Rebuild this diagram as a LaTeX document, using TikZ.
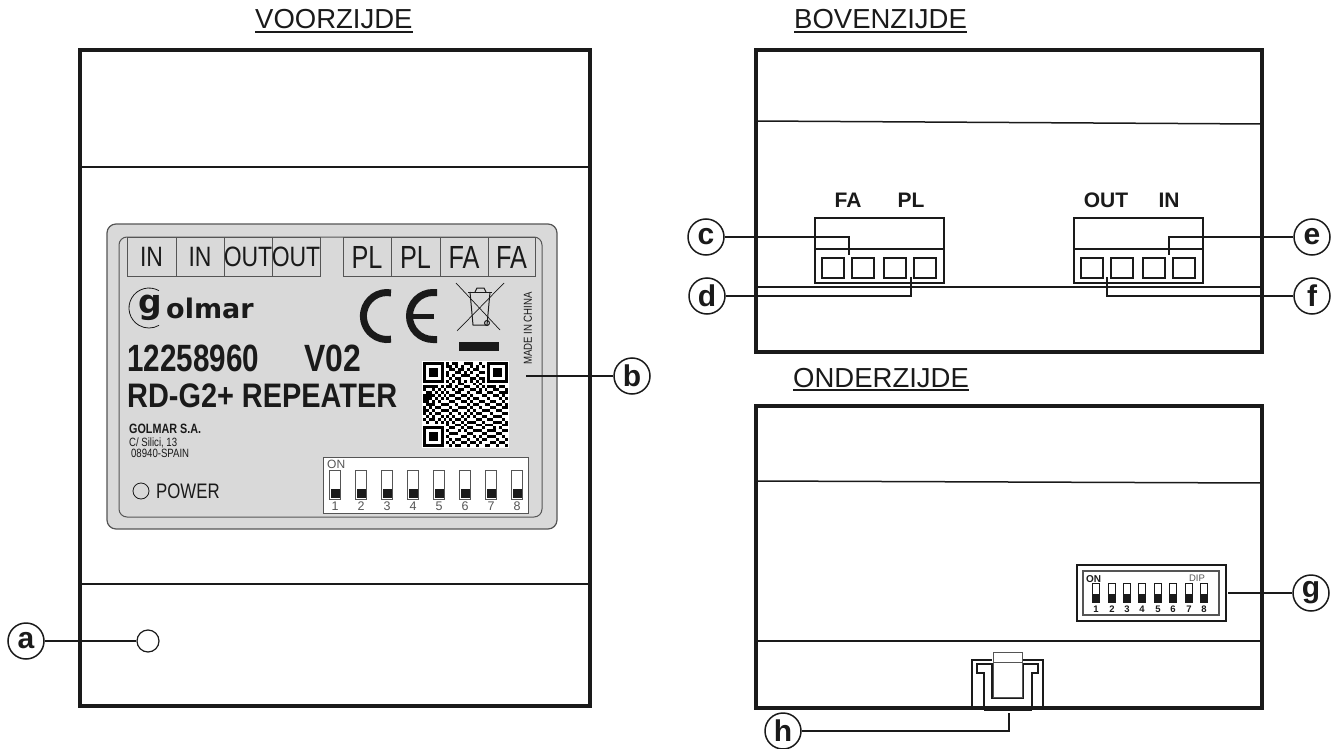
\documentclass[tikz,border=0pt]{standalone}
\usepackage{fontspec}
\setmainfont{Liberation Sans}
\newfontfamily\logofont{DejaVu Sans}
\newcommand{\fsize}[1]{\fontsize{#1}{#1}\selectfont}
\definecolor{inkblack}{HTML}{1A1A1A}
\definecolor{labelgray}{HTML}{D9D9D9}
\definecolor{edgegray}{HTML}{555555}
\tikzset{
    frameline/.style={line width=4pt, color=inkblack},
    thinline/.style={line width=1.5pt, color=inkblack},
    leader/.style={line width=1.5pt, color=inkblack},
    callout/.style={circle, draw=inkblack, line width=1.5pt, fill=white, minimum size=36pt, inner sep=0pt, font=\fsize{30}\bfseries, text=inkblack},
    viewtitle/.style={anchor=base west, inner xsep=0pt, inner ysep=3pt, font=\fsize{27.5}, text=inkblack},
    printed/.style={inner sep=0pt, text=inkblack},
    squeeze/.style={xscale=#1, transform shape},
    cellline/.style={line width=.8pt, color=edgegray},
    portbox/.style={line width=1.5pt, color=inkblack},
}
\begin{document}
\begin{tikzpicture}[x=1pt, y=-1pt]
    \useasboundingbox (0, 0) rectangle (1339, 749);

    % the three views
    \draw[frameline] (80, 50) rectangle (590, 706);
    \draw[thinline] (80, 167) -- (590, 167);
    \draw[thinline] (80, 584) -- (590, 584);
    \draw[frameline] (756, 50) rectangle (1262, 352);
    \draw[thinline] (756, 121) -- (1262, 124);
    \draw[thinline] (756, 287) -- (1262, 287);
    \draw[frameline] (756, 406) rectangle (1262, 708);
    \draw[thinline] (756, 481) -- (1262, 483);
    \draw[thinline] (756, 641) -- (1262, 641);

    \node[viewtitle] (voorzijde) at (255, 29) {VOORZIJDE};
    \draw[line width=2pt, color=inkblack] (voorzijde.south west) -- (voorzijde.south east);
    \node[viewtitle] (bovenzijde) at (794, 29) {BOVENZIJDE};
    \draw[line width=2pt, color=inkblack] (bovenzijde.south west) -- (bovenzijde.south east);
    \node[viewtitle] (onderzijde) at (793, 387) {ONDERZIJDE};
    \draw[line width=2pt, color=inkblack] (onderzijde.south west) -- (onderzijde.south east);

    % label on the front
    \draw[line width=1.2pt, color=edgegray, fill=labelgray, rounded corners=9pt] (107, 224) rectangle (557, 529);
    \draw[line width=1pt, color=edgegray, rounded corners=8pt] (119, 237) rectangle (542, 517);
    \draw[cellline] (127, 237) rectangle (320, 276);
    \draw[cellline] (343, 237) rectangle (535, 276);
    \foreach \x in {176, 224, 272, 391, 440, 488}
        \draw[cellline] (\x, 237) -- (\x, 276);
    \foreach \x/\txt/\id in {151.5/IN/ia, 200/IN/ib, 248/OUT/oa, 296/OUT/ob}
        \node[printed, squeeze=.82, font=\fsize{28}] (term\id) at (\x, 257) {\txt};
    \foreach \x/\txt/\id in {367/PL/pa, 415.5/PL/pb, 464/FA/fa, 511.5/FA/fb}
        \node[printed, squeeze=.79, font=\fsize{32}] (term\id) at (\x, 257) {\txt};

    % logo
    \draw[line width=.8pt, color=inkblack] (159, 290.7) arc[start angle=60, end angle=300, radius=20pt];
    \node[printed, anchor=base west, font=\logofont\fsize{33}\bfseries] (logog) at (138, 313.5) {g};
    \node[printed, anchor=base west, font=\logofont\fsize{27}\bfseries] (logotxt) at (166, 318) {olmar};

    % CE mark and bin
    \draw[line width=7pt, color=inkblack] (391, 292.9) arc[start angle=80, end angle=280, radius=23.5pt];
    \draw[line width=7pt, color=inkblack] (437, 292.5) -- (433, 292.5) arc[start angle=90, end angle=270, radius=23.5pt] -- (437, 339.5);
    \draw[line width=5pt, color=inkblack] (412, 316) -- (434, 316);
    \draw[line width=.7pt, color=inkblack] (456, 283) -- (500, 330);
    \draw[line width=.7pt, color=inkblack] (504, 283) -- (457, 331);
    \draw[line width=1pt, color=inkblack] (468, 292) -- (492, 292);
    \draw[line width=1pt, color=inkblack] (470, 292) -- (473, 325) -- (487, 325) -- (490, 292);
    \draw[line width=1pt, color=inkblack] (475, 292) -- (477, 288) -- (484, 288) -- (486, 292);
    \draw[line width=1pt, color=inkblack] (487, 323) circle (2.5pt);
    \fill[inkblack] (459, 342) rectangle (499, 351);
    \node[printed, rotate=90, squeeze=.83, font=\fsize{11.6}] (madein) at (528, 328.5) {MADE IN CHINA};

    % texts on the label
    \node[printed, anchor=base west, squeeze=.78, font=\fsize{38}\bfseries] (partno) at (127, 371) {12258960};
    \node[printed, anchor=base west, squeeze=.84, font=\fsize{38}\bfseries] (version) at (304, 371) {V02};
    \node[printed, anchor=base west, squeeze=.85, font=\fsize{34}\bfseries] (model) at (127, 407) {RD-G2+ REPEATER};
    \node[printed, anchor=base west, squeeze=.8, font=\fsize{13.5}\bfseries] (maker) at (129, 433) {GOLMAR S.A.};
    \node[printed, anchor=base west, squeeze=.8, font=\fsize{12}] (street) at (129, 446) {C/ Silici, 13};
    \node[printed, anchor=base west, squeeze=.8, font=\fsize{12}] (city) at (131, 457) {08940-SPAIN};
    \node[printed, anchor=base west, squeeze=.8, font=\fsize{21}] (power) at (156, 498) {POWER};
    \draw[line width=.8pt, color=inkblack] (141, 491) circle (8pt);

    % QR code
    \begin{scope}[shift={(423pt, -362pt)}, x=2.93pt, y=-2.93pt]
        \fill[white] (-.3, -.3) rectangle (29.3, 29.3);
        \foreach \fx/\fy in {0/0, 22/0, 0/22} {
            \fill[black] (\fx, \fy) rectangle ++(7, 7);
            \fill[white] (\fx+1, \fy+1) rectangle ++(5, 5);
            \fill[black] (\fx+2, \fy+2) rectangle ++(3, 3);
        }
        \foreach \r/\cols in {0/{8,10,11,14,15,16,19}, 1/{8,9,11,13,16,18,20}, 2/{9,10,12,13,15,17,18},
            3/{8,11,12,14,16,19,20}, 4/{8,10,13,14,15,18}, 5/{9,11,12,16,17,19,20},
            6/{8,10,12,14,16,18,20}, 7/{9,12,13,17,19},
            8/{0,1,2,3,4,6,8,9,11,14,15,18,20,22,23,24,26,27}, 9/{0,3,5,7,10,12,13,16,17,19,21,24,25,28},
            10/{1,2,4,6,8,11,12,15,18,19,22,23,26,27,28}, 11/{0,1,2,3,5,7,9,10,13,14,16,20,21,24,25,27},
            12/{0,1,2,4,6,8,11,12,15,17,18,22,26,28}, 13/{0,1,3,5,9,10,13,14,16,19,20,23,24,27},
            14/{1,2,3,6,7,8,11,15,17,18,21,22,25,26,28}, 15/{0,2,4,5,9,12,13,14,16,19,23,24,27,28},
            16/{0,1,3,6,7,8,10,11,15,17,20,21,22,25,26}, 17/{0,2,4,5,9,12,14,16,18,19,23,27,28},
            18/{1,3,6,8,10,13,15,17,20,21,24,25,26}, 19/{0,2,3,5,7,9,11,12,14,18,19,22,23,27},
            20/{1,4,6,8,10,13,15,16,17,20,24,25,26,28}, 21/{8,11,12,14,18,19,21,22,23,27,28},
            22/{9,10,13,15,16,20,24,26}, 23/{8,12,14,17,18,19,22,23,24,27,28},
            24/{9,10,11,15,16,20,21,25,26}, 25/{8,13,14,17,19,22,23,24,27},
            26/{9,11,12,15,18,20,21,25,28}, 27/{8,10,13,14,16,17,19,23,24,26,27},
            28/{9,11,12,15,18,21,22,25,28}}
            \foreach \c in \cols
                \fill[black] (\c, \r) rectangle ++(1, 1);
    \end{scope}

    % switches on the label
    \draw[line width=.8pt, color=edgegray, fill=white] (323, 457) rectangle (528, 513);
    \node[printed, anchor=base west, font=\fsize{12}, text=edgegray] (labelon) at (327, 468) {ON};
    \foreach \x/\n in {335/1, 361/2, 387/3, 413/4, 439/5, 465/6, 491/7, 517/8} {
        \draw[line width=.8pt, color=edgegray] (\x-5.5, 470) rectangle (\x+5.5, 499);
        \fill[inkblack] (\x-4.5, 489) rectangle (\x+4.5, 498);
        \node[printed, font=\fsize{12.5}, text=edgegray] (labelnum\n) at (\x, 506.5) {\n};
    }

    % plugs on the top view
    \draw[portbox] (815, 218) rectangle (944, 283);
    \draw[portbox] (815, 249) -- (944, 249);
    \draw[portbox] (1074, 218) rectangle (1203, 283);
    \draw[portbox] (1074, 249) -- (1203, 249);
    \foreach \x in {822, 852, 884, 914, 1081, 1111, 1143, 1173}
        \draw[portbox] (\x, 258) rectangle ++(22, 20);
    \node[printed, font=\fsize{21}\bfseries] (portfa) at (848, 200) {FA};
    \node[printed, font=\fsize{21}\bfseries] (portpl) at (911, 200) {PL};
    \node[printed, font=\fsize{21}\bfseries] (portout) at (1106, 200) {OUT};
    \node[printed, font=\fsize{21}\bfseries] (portin) at (1169, 200) {IN};

    % switches on the bottom view
    \draw[line width=1.5pt, color=inkblack] (1077, 565) rectangle (1226, 621);
    \draw[line width=2.5pt, color=edgegray] (1083, 571) rectangle (1219, 615);
    \node[printed, anchor=base west, font=\fsize{10}\bfseries] (dipon) at (1086, 582) {ON};
    \node[printed, font=\fsize{9.5}, text=edgegray] (dipname) at (1197, 578) {DIP};
    \foreach \x/\n in {1096/1, 1112/2, 1127/3, 1142/4, 1158/5, 1173/6, 1189/7, 1204/8} {
        \draw[line width=.8pt, color=inkblack] (\x-3.5, 583) rectangle (\x+3.5, 602);
        \fill[inkblack] (\x-3.5, 594) rectangle (\x+3.5, 602);
        \node[printed, font=\fsize{9.5}\bfseries] (dipnum\n) at (\x, 609) {\n};
    }

    % clip on the bottom view
    \draw[thinline] (972, 708) -- (972, 660) -- (992, 660);
    \draw[thinline] (1043, 708) -- (1043, 660) -- (1023, 660);
    \draw[thinline] (984, 708) -- (984, 673) -- (977, 673) -- (977, 664) -- (992, 664) -- (992, 698) -- (1023, 698) -- (1023, 664) -- (1038, 664) -- (1038, 673) -- (1032, 673) -- (1032, 708);
    \draw[line width=1pt, color=edgegray] (993, 652) rectangle (1022, 662);
    \draw[line width=1pt, color=edgegray] (993, 662) -- (993, 697) -- (1022, 697) -- (1022, 662);
    \draw[line width=2pt, color=inkblack] (984, 710) -- (1032, 710);

    % lamp
    \node[circle, draw=inkblack, line width=1.2pt, minimum size=22pt, inner sep=0pt] (lamp) at (148, 641) {};

    % callouts
    \node[callout] (a) at (26, 641) {a};
    \node[callout] (b) at (632, 376) {b};
    \node[callout] (c) at (706, 237) {c};
    \node[callout] (d) at (707, 296) {d};
    \node[callout] (e) at (1312, 237) {e};
    \node[callout] (f) at (1312, 296) {f};
    \node[callout] (g) at (1311, 593) {g};
    \node[callout] (h) at (783, 731) {h};
    \coordinate (bend) at (526, 376);
    \coordinate (cend) at (849, 255);
    \coordinate (dend) at (911, 277);
    \coordinate (eend) at (1169, 255);
    \coordinate (fend) at (1107, 277);
    \coordinate (gend) at (1228, 593);
    \coordinate (hend) at (1009, 713);
    \draw[leader] (a) -- (lamp);
    \draw[leader] (b) -- (bend);
    \draw[leader] (c) -| (cend);
    \draw[leader] (d) -| (dend);
    \draw[leader] (e) -| (eend);
    \draw[leader] (f) -| (fend);
    \draw[leader] (g) -- (gend);
    \draw[leader] (h) -| (hend);
\end{tikzpicture}
\end{document}
